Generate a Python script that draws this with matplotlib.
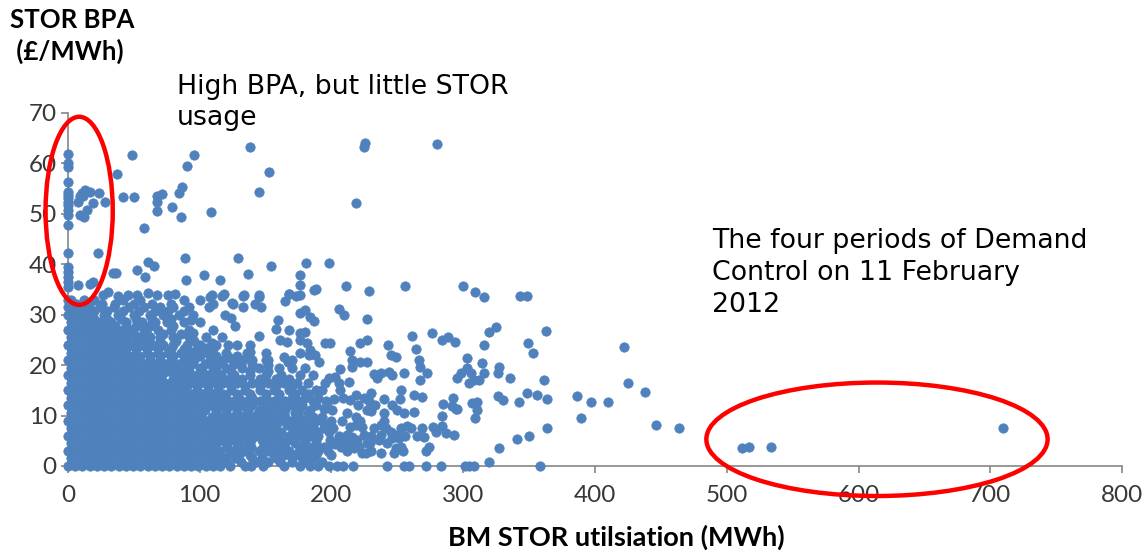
import matplotlib
matplotlib.use("Agg")
import matplotlib.pyplot as plt
from matplotlib.patches import Ellipse

# dense core of the scatter, read row by row (BPA level -> STOR MWh values)
row_y = [0, 1.5, 3, 4.5, 6, 7.5, 9, 10.5, 12, 13.5, 15, 16.5, 18, 19.5,
         21, 22.5, 24, 25.5, 27, 28.5, 30, 31.5, 33]
row_x = [
    [0, 5.5, 11, 16.5, 22, 27.5, 33, 38.5, 44, 49.5, 55, 60.5, 66, 71.5, 77, 82.5, 88, 93.5, 99, 104.5, 110, 115.5,
     123, 134, 139, 148, 164, 176, 184, 190, 198, 204, 209, 216, 242, 255, 259, 272, 283, 301, 304, 308, 358],
    [2.5, 8, 13.5, 19, 24.5, 30, 35.5, 41, 46.5, 52, 57.5, 63, 68.5, 74, 79.5, 85, 90.5, 96, 101.5, 107, 112.5, 118,
     127, 140, 147, 158, 170, 178, 186],
    [0, 5.5, 11, 16.5, 22, 27.5, 33, 38.5, 44, 49.5, 55, 60.5, 66, 71.5, 77, 82.5, 88, 93.5, 99, 104.5, 110, 115.5,
     125, 133, 145, 152, 160, 168, 175, 183, 190, 197, 212, 230, 254],
    [2.5, 8, 13.5, 19, 24.5, 30, 35.5, 41, 46.5, 52, 57.5, 63, 68.5, 74, 79.5, 85, 90.5, 96, 101.5, 107, 112.5,
     120, 128, 136, 150, 157, 165, 172, 180, 188, 203, 213, 229, 242],
    [0, 5.5, 11, 16.5, 22, 27.5, 33, 38.5, 44, 49.5, 55, 60.5, 66, 71.5, 77, 82.5, 88, 93.5, 99, 104.5, 110,
     118, 125, 135, 142, 150, 158, 168, 175, 183, 190, 206, 230, 256, 265],
    [2.5, 8, 13.5, 19, 24.5, 30, 35.5, 41, 46.5, 52, 57.5, 63, 68.5, 74, 79.5, 85, 90.5, 96, 101.5, 107,
     118, 126, 133, 140, 148, 156, 170, 178, 186, 194, 201, 232, 241, 253],
    [0, 5.5, 11, 16.5, 22, 27.5, 33, 38.5, 44, 49.5, 55, 60.5, 66, 71.5, 77, 82.5, 88, 93.5, 99, 104.5,
     115, 123, 130, 138, 145, 152, 160, 170, 180, 200, 208, 222, 240],
    [2.5, 8, 13.5, 19, 24.5, 30, 35.5, 41, 46.5, 52, 57.5, 63, 68.5, 74, 79.5, 85, 90.5, 96, 101.5,
     112, 120, 128, 136, 144, 152, 162, 172, 182, 212, 240, 255],
    [0, 5.5, 11, 16.5, 22, 27.5, 33, 38.5, 44, 49.5, 55, 60.5, 66, 71.5, 77, 82.5, 88, 93.5, 99,
     108, 116, 124, 132, 140, 150, 160, 170, 178, 188, 220, 233, 246],
    [2.5, 8, 13.5, 19, 24.5, 30, 35.5, 41, 46.5, 52, 57.5, 63, 68.5, 74, 79.5, 85, 90.5, 96,
     104, 112, 120, 130, 140, 150, 160, 170, 180, 190, 225],
    [0, 5.5, 11, 16.5, 22, 27.5, 33, 38.5, 44, 49.5, 55, 60.5, 66, 71.5, 77, 82.5, 88,
     98, 106, 114, 124, 134, 146, 156, 168, 178, 188],
    [2.5, 8, 13.5, 19, 24.5, 30, 35.5, 41, 46.5, 52, 57.5, 63, 68.5, 74, 79.5, 85,
     92, 100, 108, 118, 128, 140, 152, 164, 174, 182],
    [0, 5.5, 11, 16.5, 22, 27.5, 33, 38.5, 44, 49.5, 55, 60.5, 66, 71.5,
     82, 90, 98, 106, 116, 126, 138, 150, 162, 176, 186],
    [2.5, 8, 13.5, 19, 24.5, 30, 35.5, 41, 46.5, 52, 57.5, 63,
     72, 80, 90, 100, 110, 120, 132, 145, 160, 170, 180],
    [0, 5.5, 11, 16.5, 22, 27.5, 33, 38.5, 44, 49.5, 55,
     62, 70, 78, 88, 96, 108, 118, 128, 140, 152, 170],
    [2.5, 8, 13.5, 19, 24.5, 30, 35.5, 41,
     52, 60, 68, 76, 86, 96, 106, 120, 136, 150],
    [0, 5.5, 11, 16.5, 22, 27.5, 33,
     40, 48, 56, 64, 72, 80, 90, 100, 112, 128],
    [2.5, 8, 13.5, 19, 24.5,
     30, 38, 45, 55, 62, 70, 80, 92, 105, 117],
    [0, 5.5, 11, 16.5,
     22, 30, 38, 47, 58, 68, 78, 92, 110],
    [2.5, 8,
     16, 24, 33, 44, 56, 66, 75, 88, 100],
    [0, 5.5,
     10, 18, 27, 38, 50, 62, 72, 84, 95],
    [0, 3, 8, 15, 24, 35, 46, 58, 70, 80, 92],
    [0, 2, 12, 20, 42, 55, 88, 100],
]

# in-between rows of the crowded band (100-200 MWh) and of the blob's upper edge
mid_y = [0.8, 2.2, 3.7, 5.2, 6.8, 8.2, 9.7, 11.2, 12.8, 14.2, 15.8, 17.2, 18.8,
         20.2, 21.8, 23.2, 24.8, 26.2, 27.8, 29.2, 30.8, 32.2]
mid_x = [
    [120, 131, 143, 152, 161, 170, 181, 193],
    [122, 130, 138, 156, 164, 172, 180, 188, 200],
    [121, 129, 139, 148, 156, 164, 177, 186, 194, 207],
    [116, 124, 131, 139, 147, 154, 162, 171, 180, 188],
    [113, 121, 129, 137, 145, 153, 162, 172, 181, 190, 198],
    [111, 119, 127, 134, 142, 150, 158, 166, 175, 186, 195],
    [109, 117, 125, 133, 141, 149, 157, 165, 175, 186],
    [104, 112, 120, 128, 137, 146, 155, 165, 175, 184],
    [102, 110, 118, 126, 136, 146, 156, 165, 175, 186, 196],
    [94, 102, 110, 118, 128, 138, 150, 160, 172, 183],
    [90, 98, 106, 114, 124, 134, 146, 158, 170],
    [80, 88, 96, 104, 112, 122, 132, 146, 158, 168],
    [68, 76, 84, 92, 102, 112, 124, 138, 152],
    [60, 66, 74, 84, 94, 104, 114, 126, 140],
    [46, 54, 62, 70, 80, 90, 100, 112, 128],
    [36, 44, 52, 60, 68, 78, 88, 98, 110],
    [28, 36, 44, 52, 60, 70, 82, 96],
    [20, 28, 34, 42, 50, 60, 72, 86],
    [12, 20, 28, 36, 44, 52, 62, 80],
    [4, 12, 20, 30, 40, 52, 64, 78],
    [4, 12, 20, 30, 42, 54, 66, 76, 88],
    [6, 16, 26, 36, 50, 64, 78, 110, 125],
]

# scattered points outside the core (MWh, £/MWh)
pts_x = [0, 0, 0, 0, 0, 0, 0, 0, 0, 0, 0, 0, 0, 0, 0, 0, 0, 0,
         7.9, 10.4, 12.9, 16.7, 19.3, 23.8, 14.2, 9.1, 11.7, 9.1, 12.2, 22.6, 28.1, 37, 48.4, 42, 50.2,
         67.4, 71.2, 67.4, 67.4, 78.8, 83.9, 86.9, 85.9, 90.5, 95.8, 57.8, 108.5, 138.4, 144.7, 152.9,
         89, 128.7, 60.6, 65.6, 52.2, 34.5, 36.5, 58.6, 89.7, 103.4, 115.6, 136.6, 7.9, 17, 19.3,
         26.9, 30.7, 38.3, 45.9, 52.2, 61.1, 67.4, 76.3, 81.4, 109.3, 118.1, 133.3, 144.7,
         224.6, 225.3, 279.8, 218.8, 154.1, 180.8, 198.2, 176.4, 176.4, 176.4, 167.5, 188.4, 210.9,
         228.4, 255.5, 299.6, 309, 315.8, 343, 348.3,
         108.1, 116.9, 132.8, 144.9, 107, 124.5, 132.8, 141.7, 146.2, 167.7, 173.3, 164.4, 187,
         93.7, 94.9, 119.5, 124, 126.5, 144.9, 159.3, 157.6, 167.4, 160.6, 166.4,
         109.6, 105, 98.7, 93.7, 121.4, 137.9, 137.9, 122.7, 132.8, 150, 151.7, 163.9, 166.9,
         176.4, 180.2, 184, 187, 205.6, 209.4, 227.1,
         176.4, 180.2, 176.4, 181.5, 184, 182.7, 187.8, 190.3, 176.4,
         195.4, 199.2, 214.4, 215.7, 215.7, 206.8, 222, 227.1, 221.5, 227.1,
         242.8, 244.9, 248.7, 232.2, 237.3, 243.6, 246.2, 234.7, 255,
         261.4, 264.4, 266.4, 267.2, 272.2, 267.2, 276, 284.1, 288.7, 293.5,
         315.8, 319.6, 324.7, 362.7, 349.3, 353.1,
         303.2, 303.2, 305.7, 295.6, 298.1, 304.4, 308.2, 312, 315.8, 314.6, 326.8, 326, 335.6, 361.4,
         326, 329.8, 342.4, 348.3, 355.9, 363.5, 386, 363.5, 350, 340.5, 326.8, 319.2,
         307, 310.8, 310.8, 309, 292.5, 294.3, 295.6, 291.8, 284.6, 283.7,
         277.3, 279.1, 284.2, 286.7, 293, 269, 270.2, 274, 271.5,
         262.6, 262.6, 269, 252.5, 251.7, 257, 260.1, 249.6,
         244.9, 248.7, 246.2, 251.2, 252.5, 248.7, 247.4,
         237.3, 237.3, 236, 237.3,
         239.8, 229.7, 228.4, 229.7, 227.1, 218.3, 218.3,
         213.9, 208.9, 201.7, 200.5, 206.8, 203, 198, 205.6, 213.1,
         195.4, 192.9, 196.7, 194.1, 192.9, 190.3, 185.3, 181.5, 178.9, 186.6,
         214.4, 218.3, 223.3, 215.7, 219.5, 224.6, 220.8, 227.1, 217, 225.9, 223.3,
         199.2, 203, 206.8, 196.7, 209.4, 211.9,
         422, 425.3, 437.7, 397.2, 409.6, 389, 446.6, 463.4, 511.6, 517.1, 533.6, 709.9]
pts_y = [61.9, 60.1, 59.3, 56.4, 54.4, 53.8, 53.1, 52.4, 51.8, 50.8, 49.8, 47.8, 42.3, 39.5, 38.5, 37.5, 36.5, 35.5,
         52.4, 54.1, 54.8, 54.4, 52.2, 54.1, 50.8, 53.5, 53.5, 49.7, 49.3, 42.3, 52.4, 57.9, 61.7, 53.3, 53.3,
         53.6, 53.9, 52.4, 50.5, 51.3, 54.1, 55.3, 49.3, 59.4, 61.6, 47.2, 50.3, 63.2, 54.4, 58.3,
         41.3, 41.3, 40.5, 39.7, 38.8, 38.2, 38.2, 37.4, 36.8, 37.8, 36.8, 38.1, 35.8, 36, 36.5,
         34, 34.5, 33.8, 34, 34, 34.3, 34, 34, 34.2, 34, 34.2, 34, 34,
         63.2, 64, 63.9, 52.2, 39.7, 40.2, 40.2, 37.8, 35.8, 33.9, 34.1, 35.1, 35.7,
         34.7, 35.7, 35.7, 34.5, 33.6, 33.7, 33.7,
         33.5, 33.7, 33.7, 33.5, 31.6, 32.4, 31.6, 32.1, 31.6, 34.1, 33.7, 32.8, 34.9,
         29, 26.3, 30, 29.3, 27.8, 25.8, 29, 27.1, 27, 25, 24.5,
         24.3, 23.4, 22.7, 22.6, 24, 24, 22.7, 21.4, 21, 21, 20, 21.7, 20.7,
         30.3, 31, 29.6, 28.8, 31.2, 30, 29.1,
         26.4, 26.6, 25, 24.3, 23, 22, 22, 20.7, 22.4,
         24.3, 24.3, 22.8, 21, 19.7, 19.2, 20.7, 20.7, 24.3, 25,
         24, 22, 21.7, 18.2, 18.4, 18.7, 18.1, 17.4, 18.4,
         25.8, 23.2, 21, 19.7, 18.4, 17.1, 26.3, 25, 25.5, 24.5,
         24, 26.5, 27.5, 26.8, 24.3, 22.5,
         21.4, 19.5, 18.5, 17.4, 18.4, 16.4, 17.1, 17.1, 18.4, 20.4, 19.7, 18.4, 17.4, 17.1,
         13.8, 13.1, 12.6, 14.5, 14.1, 13.3, 13.8, 7.5, 6, 5.4, 3.6, 0.7,
         12.4, 12.6, 11.1, 9.6, 13.4, 11.4, 11.3, 11.8, 12.2, 10,
         7.8, 6.8, 8, 6.6, 6.2, 7.5, 5.8, 3.8, 3,
         10.7, 14.1, 13.6, 15.1, 13.2, 8, 7.5, 11.1,
         6.8, 6.2, 5.5, 5.5, 3.8, 3.5, 2.5,
         8.1, 6.2, 5.2, 2.6,
         13.3, 14.4, 12.8, 11, 11.1, 14.1, 9.8,
         13.1, 13.4, 13.2, 11.1, 15.1, 17.7, 17.4, 16.4, 16.7,
         16.4, 15.1, 12.4, 11.4, 9.8, 9.1, 8.1, 7.1, 7.8, 6.8,
         7.8, 8.1, 7.8, 5.8, 5.2, 6.2, 3.8, 4.5, 3.5, 2.6, 2.5,
         5.2, 4.4, 4.8, 3.8, 5.5, 6.2,
         23.6, 16.5, 14.7, 12.7, 12.7, 9.6, 8.1, 7.6, 3.5, 3.8, 3.8, 7.6]

xs, ys = [], []
for y, row in zip(row_y + mid_y, row_x + mid_x):
    xs += row
    ys += [y] * len(row)
xs += pts_x
ys += pts_y

blue = '#4F81BD'
grey = '#868686'

fig = plt.figure(figsize=(11.48, 5.52), dpi=100)
ax = fig.add_axes([0.0592, 0.1558, 0.9182, 0.6395])

ax.scatter(xs, ys, s=46, color=blue, edgecolors=blue, linewidths=0.5,
           clip_on=False, zorder=3)

# callout ellipses
ax.add_patch(Ellipse((8.5, 50.6), 51, 37.3, fill=False, edgecolor='red',
                     linewidth=3.2, clip_on=False, zorder=4))
ax.add_patch(Ellipse((614, 5.3), 259, 22.5, fill=False, edgecolor='red',
                     linewidth=3.2, clip_on=False, zorder=4))

ax.set_xlim(0, 800)
ax.set_ylim(0, 70)
ax.set_xticks(range(0, 801, 100))
ax.set_yticks(range(0, 71, 10))

for s in ['top', 'right']:
    ax.spines[s].set_visible(False)
for s in ['left', 'bottom']:
    ax.spines[s].set_color(grey)
    ax.spines[s].set_linewidth(1.2)
ax.tick_params(axis='both', direction='out', length=5, width=1.2, color=grey,
               labelcolor='#383838', labelsize=17.5)
ax.tick_params(axis='x', pad=9)
ax.tick_params(axis='y', pad=3)
for lab in ax.get_xticklabels() + ax.get_yticklabels():
    lab.set_family('Lato')

fig.text(0.009, 0.985, 'STOR BPA\n (£/MWh)', family='Lato', weight='bold',
         fontsize=18.5, va='top', ha='left', linespacing=1.3)
fig.text(0.5366, 0.012, 'BM STOR utilsiation (MWh)', family='Lato', weight='bold',
         fontsize=19.5, va='baseline', ha='center')

fig.text(0.154, 0.866, 'High BPA, but little STOR\nusage', fontsize=19.3,
         va='top', ha='left', linespacing=1.24)
fig.text(0.620, 0.587, 'The four periods of Demand\nControl on 11 February\n2012',
         fontsize=19.3, va='top', ha='left', linespacing=1.3)

fig.savefig('out.png', dpi=100)
